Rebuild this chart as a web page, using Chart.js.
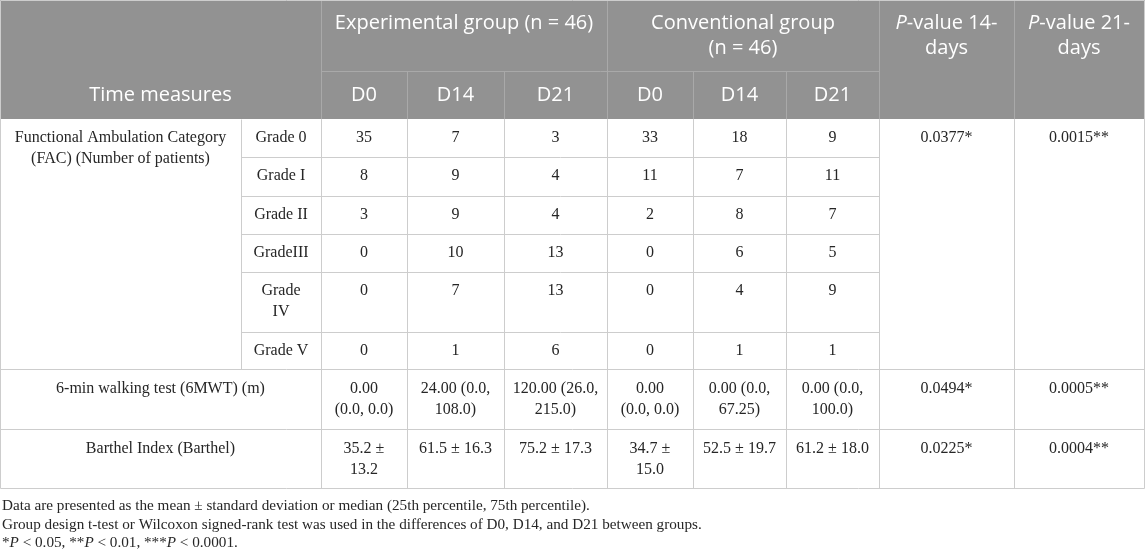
<!DOCTYPE html>
<html>
<head>
<meta charset="utf-8">
<script src="https://cdn.jsdelivr.net/npm/chart.js@4/dist/chart.umd.min.js"></script>
<style>
  html, body { margin: 0; padding: 0; background: #fff; }
  #wrap { width: 1145px; height: 552px; }
</style>
</head>
<body>
<div id="wrap"><canvas id="tabla" width="1145" height="552"></canvas></div>
<script>
// datos de la tabla
const timePoints = ['D0', 'D14', 'D21'];
const groupNames = ['Experimental group (n = 46)', 'Conventional group\n(n = 46)'];
const pValueHeads = ['P-value 14-\ndays', 'P-value 21-\ndays'];
const rowHead = 'Time measures';

const facLabel = 'Functional Ambulation Category\n(FAC) (Number of patients)';
const facGrades = ['Grade 0', 'Grade I', 'Grade II', 'GradeIII', 'Grade\nIV', 'Grade V'];
const expD0 = [35, 8, 3, 0, 0, 0];
const expD14 = [7, 9, 9, 10, 7, 1];
const expD21 = [3, 4, 4, 13, 13, 6];
const convD0 = [33, 11, 2, 0, 0, 0];
const convD14 = [18, 7, 8, 6, 4, 1];
const convD21 = [9, 11, 7, 5, 9, 1];
const facP = ['0.0377*', '0.0015**'];

const mwtLabel = '6-min walking test (6MWT) (m)';
const mwtValues = ['0.00\n(0.0, 0.0)', '24.00 (0.0,\n108.0)', '120.00 (26.0,\n215.0)',
                   '0.00\n(0.0, 0.0)', '0.00 (0.0,\n67.25)', '0.00 (0.0,\n100.0)'];
const mwtP = ['0.0494*', '0.0005**'];

const barthelLabel = 'Barthel Index (Barthel)';
const barthelValues = ['35.2 ±\n13.2', '61.5 ± 16.3', '75.2 ± 17.3', '34.7 ±\n15.0', '52.5 ± 19.7', '61.2 ± 18.0'];
const barthelP = ['0.0225*', '0.0004**'];

const notes = [
  'Data are presented as the mean ± standard deviation or median (25th percentile, 75th percentile).',
  'Group design t-test or Wilcoxon signed-rank test was used in the differences of D0, D14, and D21 between groups.',
  '*P < 0.05, **P < 0.01, ***P < 0.0001.'
];

// disposicion (en pixeles de la imagen)
const W = 1145, H = 552;
const colX = [0, 241, 321, 407, 504, 607, 693, 786, 879, 1014, 1144];
const headY = [0, 71, 119];
const rowY = [119, 157, 196, 234, 272, 332, 369, 429, 488];
const noteY = [506, 525, 543];

const headFont = '20px "Open Sans"';
const bodyFont = '16px "Liberation Serif"';
const noteFont = '15.2px "Liberation Serif"';

function mid(a, b) { return (colX[a] + colX[b]) / 2; }

// armar las celdas
var celdas = [];
function add(x, y, label, kind, align) {
  celdas.push({ x: x, y: y, label: label, kind: kind, align: align || 'center' });
}

add(mid(0, 2), 95, rowHead, 'head');
add(mid(2, 5), 23, groupNames[0], 'head');
add(mid(5, 8), 23, groupNames[1], 'head');
for (var k = 0; k < 6; k++) {
  add(mid(k + 2, k + 3), 95, timePoints[k % 3], 'head');
}
add(mid(8, 9), 23, pValueHeads[0], 'head');
add(mid(9, 10), 23, pValueHeads[1], 'head');

var facCols = [expD0, expD14, expD21, convD0, convD14, convD21];
add(mid(0, 1), rowY[0] + 19, facLabel, 'body');
for (var i = 0; i < facGrades.length; i++) {
  add(mid(1, 2), rowY[i] + 19, facGrades[i], 'body');
  for (var j = 0; j < facCols.length; j++) {
    add(mid(j + 2, j + 3), rowY[i] + 19, String(facCols[j][i]), 'body');
  }
}
add(mid(8, 9), rowY[0] + 19, facP[0], 'body');
add(mid(9, 10), rowY[0] + 19, facP[1], 'body');

add(mid(0, 2), rowY[6] + 20, mwtLabel, 'body');
add(mid(0, 2), rowY[7] + 20, barthelLabel, 'body');
for (var j = 0; j < 6; j++) {
  add(mid(j + 2, j + 3), rowY[6] + 20, mwtValues[j], 'body');
  add(mid(j + 2, j + 3), rowY[7] + 20, barthelValues[j], 'body');
}
add(mid(8, 9), rowY[6] + 20, mwtP[0], 'body');
add(mid(9, 10), rowY[6] + 20, mwtP[1], 'body');
add(mid(8, 9), rowY[7] + 20, barthelP[0], 'body');
add(mid(9, 10), rowY[7] + 20, barthelP[1], 'body');

for (var n = 0; n < notes.length; n++) {
  add(2, noteY[n], notes[n], 'note', 'left');
}

// texto con la P en cursiva
function partes(linea) {
  var out = [];
  var re = /P(?=-value| <)/g, last = 0, m;
  while ((m = re.exec(linea)) !== null) {
    if (m.index > last) out.push({ t: linea.slice(last, m.index), it: false });
    out.push({ t: 'P', it: true });
    last = m.index + 1;
  }
  if (last < linea.length) out.push({ t: linea.slice(last), it: false });
  return out;
}

function dibujarLinea(ctx, linea, x, y, font, align) {
  var segs = partes(linea);
  var anchos = segs.map(function(s) {
    ctx.font = (s.it ? 'italic ' : '') + font;
    return ctx.measureText(s.t).width;
  });
  var total = anchos.reduce(function(a, b) { return a + b; }, 0);
  var cx = align === 'left' ? x : x - total / 2;
  ctx.textAlign = 'left';
  ctx.textBaseline = 'middle';
  segs.forEach(function(s, i) {
    ctx.font = (s.it ? 'italic ' : '') + font;
    ctx.fillText(s.t, cx, y);
    cx += anchos[i];
  });
}

const tablaPlugin = {
  id: 'tabla',
  beforeDatasetsDraw: function(chart) {
    var ctx = chart.ctx;
    var sx = chart.scales.x, sy = chart.scales.y;
    function px(v) { return Math.round(sx.getPixelForValue(v)) + 0.5; }
    function py(v) { return Math.round(sy.getPixelForValue(v)) + 0.5; }
    function linea(x1, y1, x2, y2) {
      ctx.beginPath();
      ctx.moveTo(px(x1), py(y1));
      ctx.lineTo(px(x2), py(y2));
      ctx.stroke();
    }
    ctx.save();
    // fondo del encabezado
    ctx.fillStyle = '#929292';
    ctx.fillRect(sx.getPixelForValue(colX[0]), sy.getPixelForValue(headY[0]),
                 sx.getPixelForValue(colX[10]) - sx.getPixelForValue(colX[0]) + 1,
                 sy.getPixelForValue(headY[2]) - sy.getPixelForValue(headY[0]));
    ctx.lineWidth = 1;
    ctx.strokeStyle = '#a9a9a9';
    [2, 5, 8, 9].forEach(function(c) { linea(colX[c], headY[0], colX[c], headY[2]); });
    [3, 4, 6, 7].forEach(function(c) { linea(colX[c], headY[1], colX[c], headY[2]); });
    linea(colX[2], headY[1], colX[8], headY[1]);

    // lineas del cuerpo
    ctx.strokeStyle = '#cdcdcd';
    for (var r = 1; r < 6; r++) linea(colX[1], rowY[r], colX[8], rowY[r]);
    linea(colX[0], rowY[6], colX[10], rowY[6]);
    linea(colX[0], rowY[7], colX[10], rowY[7]);
    linea(colX[0], rowY[8], colX[10], rowY[8]);
    linea(colX[1], rowY[0], colX[1], rowY[6]);
    for (var c = 2; c < 10; c++) linea(colX[c], rowY[0], colX[c], rowY[8]);
    linea(colX[0], headY[0], colX[0], rowY[8]);
    linea(colX[10], headY[0], colX[10], rowY[8]);
    linea(colX[0], headY[0], colX[10], headY[0]);
    ctx.restore();
  },
  afterDatasetsDraw: function(chart) {
    var ctx = chart.ctx;
    var meta = chart.getDatasetMeta(0);
    ctx.save();
    meta.data.forEach(function(el, i) {
      var c = celdas[i];
      var font = c.kind === 'head' ? headFont : (c.kind === 'note' ? noteFont : bodyFont);
      var alto = c.kind === 'head' ? 25 : (c.kind === 'note' ? 18 : 21);
      ctx.fillStyle = c.kind === 'head' ? '#ffffff' : '#262626';
      c.label.split('\n').forEach(function(l, k) {
        dibujarLinea(ctx, l, el.x, el.y + k * alto, font, c.align);
      });
    });
    ctx.restore();
  }
};

new Chart(document.getElementById('tabla'), {
  type: 'scatter',
  data: {
    datasets: [{
      data: celdas.map(function(c) { return { x: c.x, y: c.y }; }),
      pointRadius: 0,
      pointHoverRadius: 0
    }]
  },
  options: {
    responsive: false,
    animation: false,
    events: [],
    layout: { padding: 0 },
    plugins: { legend: { display: false }, tooltip: { enabled: false } },
    scales: {
      x: { type: 'linear', min: 0, max: W, display: false },
      y: { type: 'linear', min: 0, max: H, reverse: true, display: false }
    }
  },
  plugins: [tablaPlugin]
});
</script>
</body>
</html>
